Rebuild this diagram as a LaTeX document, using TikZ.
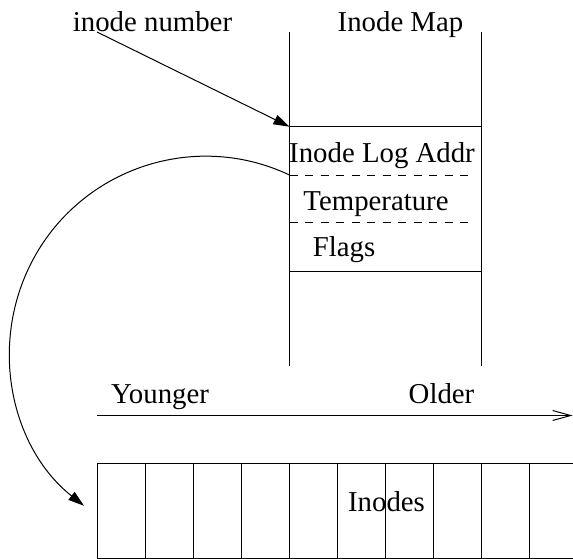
\documentclass[tikz,border=0pt]{standalone}
\usepackage{fontspec}
\setmainfont{Liberation Serif}
\usetikzlibrary{arrows.meta}
\begin{document}
\begin{tikzpicture}[x=1pt,y=-1pt,
  lbl/.style={inner sep=0pt,anchor=base,font=\fontsize{28.8}{34}\selectfont},
  ln/.style={line width=1pt,black},
  dsh/.style={line width=0.9pt,dash pattern=on 8pt off 7.5pt},
  filledtip/.style={-{Triangle[length=16pt,width=10pt]}},
  opentip/.style={-{Straight Barb[length=18pt,width=10pt,line width=1pt]}}]
\useasboundingbox (0,0) rectangle (573,559);
% texts
\node[lbl] (inum) at (152.5,32) {inode number};
\node[lbl] (imap) at (400.5,32) {Inode Map};
\node[lbl] (logaddr) at (382,162.5) {Inode Log Addr};
\node[lbl] (temp) at (376,210) {Temperature};
\node[lbl] (flags) at (344,256.7) {Flags};
\node[lbl] (young) at (160,403) {Younger};
\node[lbl] (old) at (441.5,403) {Older};
\node[lbl] (inodes) at (386.5,511.7) {Inodes};
% inode map columns
\coordinate (mapTL) at (289.5,32);
\coordinate (mapTR) at (481.7,32);
\coordinate (mapBL) at (289.5,366);
\coordinate (mapBR) at (481.7,366);
\draw[ln] (mapTL) -- (mapBL);
\draw[ln] (mapTR) -- (mapBR);
\coordinate (r1L) at (289.5,126.7);
\coordinate (r1R) at (481.7,126.7);
\coordinate (r4L) at (289.5,271);
\coordinate (r4R) at (481.7,271);
\draw[ln] (r1L) -- (r1R);
\draw[ln] (r4L) -- (r4R);
\coordinate (d1L) at (289.5,175);
\coordinate (d1R) at (472,175);
\coordinate (d2L) at (289.5,222.7);
\coordinate (d2R) at (472,222.7);
\draw[dsh] (d1L) -- (d1R);
\draw[dsh] (d2L) -- (d2R);
% arrow from inode number
\coordinate (inumS) at (97,32);
\draw[ln,filledtip] (inumS) -- (r1L);
% curved arrow to inodes
\draw[ln,filledtip] (d1L) arc[start angle=-64.7,end angle=-231.6,radius=196];
% younger -> older axis
\coordinate (axS) at (97,415.5);
\coordinate (axE) at (572.5,415.5);
\draw[ln,opentip] (axS) -- (axE);
% inodes row
\coordinate (boxTL) at (97,463);
\coordinate (boxTR) at (573,463);
\coordinate (boxBL) at (97,558.3);
\coordinate (boxBR) at (573,558.3);
\draw[ln] (boxTR) -- (boxTL) -- (boxBL) -- (boxBR);
\foreach \k in {1,...,9}{
  \draw[ln] ({97+48.1*\k},463) -- ({97+48.1*\k},558.3);
}
\end{tikzpicture}
\end{document}
